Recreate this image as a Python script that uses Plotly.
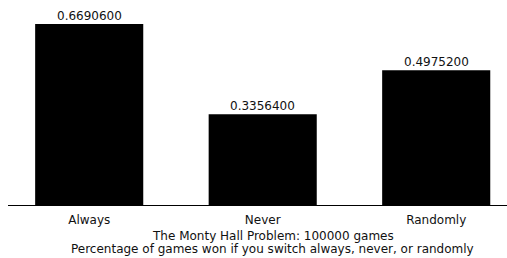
import plotly.graph_objects as go

categories = ["Always", "Never", "Randomly"]
win_rates = [0.66906, 0.33564, 0.49752]
value_labels = ["0.6690600", "0.3356400", "0.4975200"]
title_lines = ["The Monty Hall Problem: 100000 games",
               "Percentage of games won if you switch always, never, or randomly"]

FONT = "DejaVu Sans, Verdana, sans-serif"

fig = go.Figure(go.Bar(
    x=categories, y=win_rates,
    marker=dict(color="black", line=dict(width=0)), hoverinfo="skip",
))

annotations = [
    dict(text=lbl, x=c, y=v, xref="x", yref="y", yanchor="bottom", showarrow=False,
         borderpad=0, yshift=0, font=dict(size=12, color="#111"))
    for c, v, lbl in zip(categories, win_rates, value_labels)
]
annotations += [
    dict(text=title_lines[0], x=0.531, xref="paper", y=-0.153, yref="paper",
         yanchor="middle", showarrow=False, borderpad=0, font=dict(size=12, color="#111")),
    dict(text=title_lines[1], x=0.531, xref="paper", y=-0.219, yref="paper",
         yanchor="middle", showarrow=False, borderpad=0, font=dict(size=12, color="#111")),
]

fig.update_layout(
    width=507, height=258,
    margin=dict(l=8, r=0, t=2, b=53),
    paper_bgcolor="white", plot_bgcolor="white",
    bargap=0.377, showlegend=False,
    font=dict(family=FONT, size=12, color="#111"),
    xaxis=dict(range=[-0.468, 2.408], showline=True, linecolor="black", linewidth=1,
               ticks="", showgrid=False, tickfont=dict(size=12), ticklabelstandoff=4,
               fixedrange=True),
    yaxis=dict(range=[0, 0.75], visible=False, showgrid=False, zeroline=False,
               fixedrange=True),
    annotations=annotations,
)

fig.write_html("out.html", config={"displayModeBar": False},
               post_script="document.body.style.margin='0';")
